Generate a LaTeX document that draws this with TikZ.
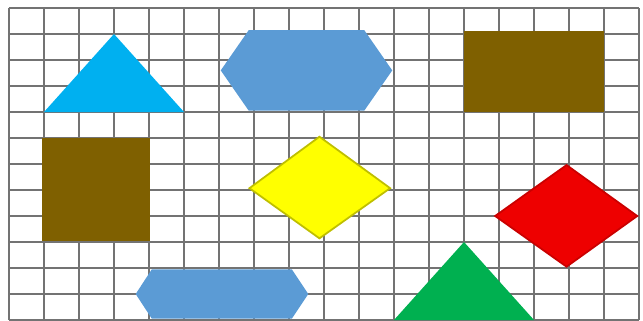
\documentclass[tikz,border=0pt]{standalone}
\usepackage{tikz}
\definecolor{skyblue}{RGB}{0,176,240}
\definecolor{hexblue}{RGB}{91,155,213}
\definecolor{mudbrown}{RGB}{127,96,0}
\definecolor{grass}{RGB}{0,176,80}
\definecolor{lemon}{RGB}{255,255,0}
\definecolor{signalred}{RGB}{238,0,0}

\begin{document}
\begin{tikzpicture}[x=.35cm,y=.26cm,
      gridline/.style={draw=black!55,line width=.6pt,xstep=.35cm,ystep=.26cm},
      tile/.style={line width=.4pt,line join=miter},
      hexa/.style={tile,fill=hexblue},
      block/.style={tile,fill=mudbrown},
      kite/.style={tile,line width=.5pt}
    ]
    \useasboundingbox (-.257,0) rectangle (18.114,12.308);
    \draw[gridline] (0,0) grid (18,12);

    \fill[tile,skyblue] (1,8)--(5,8)--(3,11)--cycle;
    \fill[hexa] (6.05,9.6)--(6.85,11.15)--(10.15,11.15)--(10.95,9.6)--(10.15,8.05)--(6.85,8.05)--cycle;
    \fill[block] (13,8) rectangle (17,11.1);

    \fill[block] (.93,3.05) rectangle (4.02,7);
    \filldraw[kite,fill=lemon,draw=lemon!75!black] (6.87,5.07)--(8.87,7.05)--(10.89,5.07)--(8.87,3.14)--cycle;
    \filldraw[kite,fill=signalred,draw=signalred!85!black] (13.89,4)--(15.93,5.96)--(17.95,4)--(15.93,2.05)--cycle;

    \fill[hexa] (3.62,1)--(4.08,1.95)--(8.08,1.95)--(8.55,1)--(8.08,.05)--(4.08,.05)--cycle;
    \fill[tile,grass] (11,0)--(15,0)--(13,3)--cycle;
  \end{tikzpicture}
\end{document}
